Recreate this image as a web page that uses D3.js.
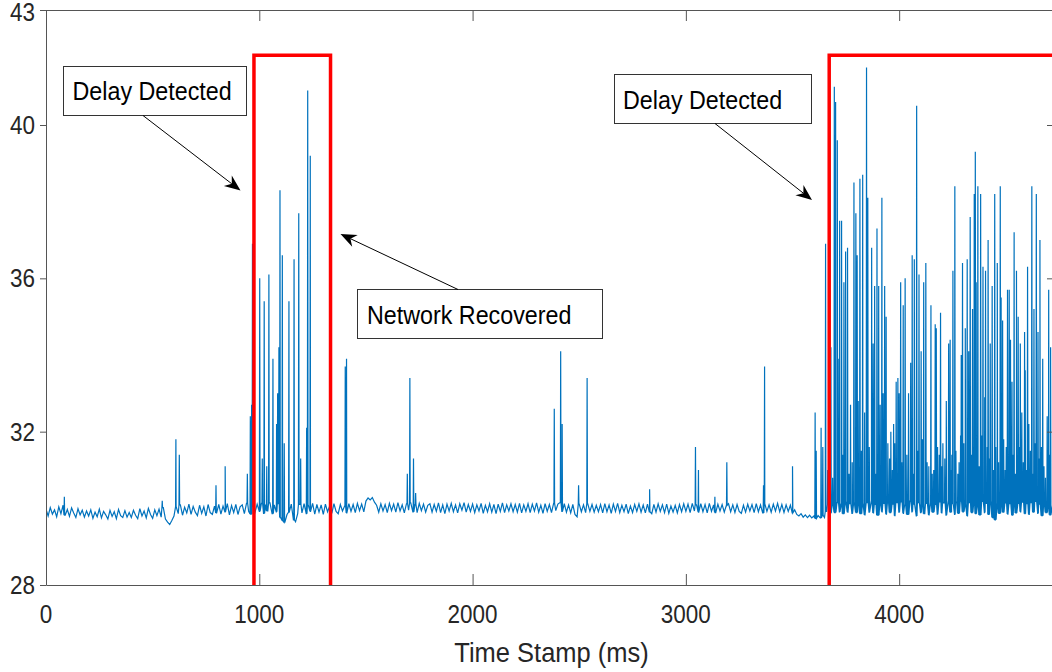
<!DOCTYPE html>
<html>
<head>
<meta charset="utf-8">
<script src="https://cdn.jsdelivr.net/npm/d3@7"></script>
<style>
  html, body { margin: 0; padding: 0; background: #fff; }
  svg { display: block; font-family: "Liberation Sans", Arial, Helvetica, sans-serif; }
</style>
</head>
<body>
<svg id="chart" width="1052" height="672"></svg>
<script>
// baseline delay, one sample every 10 ms starting at 0 ms (one row = 200 ms)
const baseStep = 10;
const baseline = [
  29.98, 29.80, 30.02, 29.85, 29.96, 29.78, 30.04, 29.86, 30.08, 29.82, 29.97, 29.79, 30.01, 29.88, 29.76, 29.99, 29.83, 29.95, 29.77, 29.93,
  29.80, 29.96, 29.74, 29.90, 29.78, 29.98, 29.75, 29.92, 29.83, 29.72, 29.95, 29.79, 29.91, 29.73, 29.97, 29.81, 29.76, 29.94, 29.77, 29.89,
  29.76, 29.95, 29.82, 29.73, 29.99, 29.80, 29.93, 29.75, 30.00, 29.84, 29.74, 29.96, 29.81, 29.98, 29.77, 30.02, 29.72, 29.64, 29.58, 29.68,
  29.80, 30.04, 29.86, 30.09, 29.82, 30.03, 29.88, 30.11, 29.84, 30.05, 29.90, 29.81, 30.08, 29.87, 30.04, 29.80, 30.10, 29.89, 29.84, 30.06,
  29.88, 30.10, 29.85, 30.06, 29.91, 30.12, 29.83, 30.07, 29.89, 30.10, 29.84, 30.04, 30.09, 29.86, 30.13, 29.92, 29.85, 30.08, 29.90, 30.11,
  29.92, 30.13, 29.87, 30.10, 29.93, 30.14, 29.86, 30.09, 29.91, 30.12, 29.76, 29.68, 29.64, 29.84, 29.90, 30.11, 29.70, 29.65, 29.86, 30.10,
  29.88, 30.12, 29.86, 30.08, 29.92, 30.13, 29.85, 30.10, 29.90, 30.09, 29.84, 30.11, 29.91, 30.06, 29.87, 30.12, 29.92, 29.86, 30.10, 29.93,
  30.06, 29.88, 30.12, 29.92, 30.10, 29.89, 30.13, 29.94, 30.11, 29.91, 30.19, 30.27, 30.22, 30.28, 30.16, 30.08, 29.90, 30.12, 29.93, 30.10,
  29.89, 30.13, 29.94, 30.11, 29.90, 30.15, 29.93, 30.09, 29.88, 30.12, 29.95, 30.14, 29.91, 30.10, 29.89, 30.13, 29.94, 30.11, 29.90, 30.08,
  30.12, 29.90, 30.10, 29.92, 30.14, 29.89, 30.09, 29.86, 30.11, 29.93, 30.13, 29.91, 30.09, 29.88, 30.12, 29.95, 30.15, 29.90, 30.10, 29.92,
  30.11, 29.89, 30.09, 29.93, 30.13, 29.87, 30.08, 29.91, 30.12, 29.90, 30.10, 29.86, 30.11, 29.92, 30.14, 29.89, 30.09, 29.93, 30.12, 29.91,
  30.10, 29.90, 30.13, 29.88, 30.09, 29.92, 30.12, 29.89, 30.11, 29.93, 30.14, 29.90, 30.08, 29.87, 30.12, 29.92, 30.10, 29.89, 30.13, 29.94,
  30.11, 30.15, 29.92, 30.12, 29.90, 30.09, 29.88, 30.10, 29.84, 29.78, 30.11, 29.91, 30.09, 29.89, 30.12, 29.92, 30.10, 29.90, 30.08, 29.91,
  30.10, 29.88, 30.12, 29.91, 30.09, 29.87, 30.11, 29.92, 30.13, 29.89, 30.08, 29.91, 30.11, 29.86, 30.06, 29.89, 30.10, 29.92, 30.12, 29.90,
  30.09, 29.88, 30.11, 29.91, 29.86, 30.10, 29.90, 30.12, 29.92, 30.09, 29.89, 30.11, 29.87, 30.06, 29.90, 30.08, 29.88, 30.10, 29.91, 30.12,
  29.92, 30.11, 29.89, 30.13, 29.93, 30.09, 29.90, 30.12, 29.91, 30.10, 29.88, 30.13, 29.92, 30.09, 29.89, 30.11, 29.93, 30.10, 29.90, 30.08,
  30.12, 29.91, 30.09, 29.89, 30.10, 29.92, 29.87, 30.08, 29.90, 30.11, 29.93, 30.10, 29.89, 30.12, 29.91, 30.09, 29.88, 30.11, 29.92, 30.09,
  29.90, 30.11, 29.93, 30.13, 29.91, 30.10, 29.89, 30.09, 29.92, 30.08, 29.88, 29.96, 29.84, 29.80, 29.86, 29.77, 29.83, 29.76, 29.82, 29.75,
  29.80, 29.74, 29.81, 29.75, 29.82, 29.76, 29.92, 30.10, 29.88, 30.13, 29.89, 30.15, 29.91, 30.11, 29.86, 30.17, 29.90, 30.12, 29.87, 30.14,
  29.89, 30.17, 29.86, 30.12, 29.83, 30.15, 29.90, 30.19, 29.88, 30.10, 29.82, 30.16, 29.91, 30.13, 29.85, 30.18, 29.89, 30.11, 29.81, 30.15,
  29.90, 30.17, 29.87, 30.12, 29.84, 30.19, 29.91, 30.11, 29.80, 30.15, 29.89, 30.18, 29.86, 30.13, 29.83, 30.16, 29.90, 30.10, 29.85, 30.17,
  29.88, 30.14, 29.82, 30.18, 29.90, 30.12, 29.84, 30.16, 29.87, 30.19, 29.91, 30.11, 29.80, 30.15, 29.89, 30.17, 29.86, 30.13, 29.83, 30.18,
  29.89, 30.13, 29.84, 30.16, 29.76, 29.70, 30.11, 29.87, 30.17, 29.90, 30.14, 29.85, 30.12, 29.82, 30.19, 29.88, 30.13, 29.91, 30.16, 29.86,
  30.12, 29.84, 30.15, 29.90, 30.18, 29.87, 30.11, 29.81, 30.16, 29.89, 30.13, 29.83, 30.10
];

// single-sample delay spikes (ms timestamp, delay)
const spikeTimes = [
  86, 545, 609, 625, 797, 840, 944, 958, 964, 968,
  1002, 1014, 1023, 1035, 1045, 1064, 1081, 1086, 1092, 1097,
  1108, 1117, 1139, 1163, 1185, 1194, 1222, 1227, 1239, 1403,
  1409, 1694, 1706, 1723, 1733, 2383, 2413, 2420, 2497, 2537,
  2830, 3045, 3059, 3136, 3192, 3364, 3369, 3500, 3606, 3611,
  3634, 3642, 3655, 3665, 3680, 3688, 3696, 3702, 3710, 3714,
  3721, 3730, 3735, 3741, 3749, 3758, 3765, 3772, 3780, 3788,
  3797, 3803, 3808, 3816, 3823, 3829, 3838, 3847, 3853, 3860,
  3871, 3878, 3885, 3890, 3896, 3904, 3911, 3919, 3925, 3932,
  3939, 3947, 3955, 3961, 3968, 3974, 3979, 3986, 3994, 4000,
  4007, 4012, 4019, 4028, 4036, 4044, 4054, 4061, 4066, 4071,
  4082, 4087, 4093, 4103, 4109, 4115, 4125, 4131, 4139, 4149,
  4155, 4162, 4169, 4174, 4180, 4188, 4194, 4199, 4205, 4214,
  4221, 4232, 4239, 4244, 4247, 4252, 4261, 4266, 4275, 4281,
  4288, 4291, 4297, 4303, 4310, 4319, 4326, 4333, 4338, 4344,
  4352, 4357, 4361, 4369, 4375, 4382, 4388, 4393, 4401, 4405,
  4413, 4417, 4422, 4427, 4436, 4442, 4448, 4453, 4460, 4466,
  4474, 4478, 4485, 4490, 4497, 4502, 4508, 4516, 4522, 4529,
  4533, 4539, 4545, 4550, 4558, 4563, 4568, 4575, 4582, 4588,
  4591, 4596, 4602, 4608, 4615, 4622, 4627, 4632, 4637, 4643,
  4651, 4655, 4660, 4667, 4673, 4679, 4686, 4694, 4701, 4705,
  4710
];
const spikePeaks = [
  30.3, 30.2, 31.8, 31.4, 30.6, 31.1, 30.9, 32.4, 32.7, 36.9,
  36.0, 31.3, 35.4, 31.1, 36.1, 33.9, 32.2, 33.0, 34.2, 38.3,
  36.6, 31.7, 35.4, 36.5, 37.7, 31.3, 32.1, 40.9, 39.2, 33.7,
  33.9, 30.9, 33.4, 31.3, 30.4, 32.6, 34.1, 32.2, 30.6, 33.4,
  30.5, 31.6, 31.0, 30.3, 31.2, 30.6, 33.7, 31.1, 32.5, 31.5,
  32.1, 31.6, 36.9, 31.0, 34.2, 30.8, 41.0, 40.6, 39.6, 33.9,
  37.5, 37.5, 31.4, 35.9, 36.7, 36.8, 30.9, 32.7, 31.2, 38.5,
  37.7, 36.6, 32.8, 38.6, 31.5, 38.7, 32.5, 41.5, 38.1, 31.6,
  36.8, 34.3, 35.8, 30.9, 37.3, 35.8, 32.7, 38.1, 33.0, 35.8,
  35.0, 31.7, 31.3, 32.0, 31.0, 32.2, 31.7, 33.3, 33.4, 33.0,
  35.9, 31.2, 35.3, 36.0, 31.4, 33.0, 33.8, 36.6, 30.9, 36.5,
  40.5, 31.5, 36.1, 34.1, 31.8, 35.9, 36.4, 31.2, 31.1, 35.3,
  30.9, 31.0, 34.8, 34.7, 31.6, 31.4, 35.1, 31.1, 31.7, 31.3,
  32.8, 34.3, 34.4, 31.0, 31.4, 36.2, 38.4, 31.5, 30.9, 31.2,
  31.9, 34.0, 36.4, 31.7, 34.7, 36.5, 34.1, 37.6, 31.4, 35.2,
  38.2, 39.3, 35.9, 38.4, 31.1, 38.2, 31.9, 36.3, 32.9, 36.2,
  31.6, 37.0, 31.3, 34.3, 35.8, 31.0, 38.2, 31.6, 36.4, 31.2,
  38.4, 35.5, 34.9, 31.8, 31.0, 31.6, 35.7, 35.7, 34.4, 33.3,
  31.4, 37.2, 30.9, 36.2, 35.0, 31.6, 34.3, 32.5, 31.2, 34.6,
  33.6, 31.0, 36.3, 32.2, 31.5, 38.4, 30.9, 35.2, 31.7, 38.2,
  34.6, 31.3, 37.0, 31.6, 33.9, 31.1, 30.8, 32.4, 35.7, 31.4,
  34.2
];

// red delay-alarm step signal (low level sits below the visible axis)
const alarmTimes = [0, 975, 975, 1334, 1334, 3672, 3672, 4740];
const alarmLevels = [27, 27, 41.82, 41.82, 27, 27, 41.82, 41.82];

const xTicks = [0, 1000, 2000, 3000, 4000];
const yTicks = [28, 32, 36, 40, 43];
const xTitle = "Time Stamp (ms)";

// layout
const margin = { left: 46, top: 10, right: 1057, bottom: 585 };
const stretch = 1.12; // text in the picture is a bit taller than wide

const svg = d3.select("#chart");

const x = d3.scaleLinear().domain([0, 4740]).range([margin.left, margin.right]);
const y = d3.scaleLinear().domain([28, 43]).range([margin.bottom, margin.top]);

svg.append("defs").append("clipPath").attr("id", "plotClip")
  .append("rect")
  .attr("x", margin.left).attr("y", margin.top)
  .attr("width", margin.right - margin.left)
  .attr("height", margin.bottom - margin.top);

// build the delay series: baseline samples plus one-sample spikes
const series = baseline.map((v, i) => ({ t: i * baseStep, v: v }));
spikeTimes.forEach((t, i) => {
  const foot = baseline[Math.min(baseline.length - 1, Math.round(t / baseStep))];
  series.push({ t: t - 1.5, v: foot }, { t: t, v: spikePeaks[i] }, { t: t + 1.5, v: foot });
});
series.sort((a, b) => a.t - b.t);

const plot = svg.append("g").attr("clip-path", "url(#plotClip)");

const line = d3.line().x(d => x(d.t)).y(d => y(d.v));

plot.append("path")
  .datum(series)
  .attr("fill", "none")
  .attr("stroke", "#0072BD")
  .attr("stroke-width", 1.2)
  .attr("d", line);

const alarm = alarmTimes.map((t, i) => ({ t: t, v: alarmLevels[i] }));
plot.append("path")
  .datum(alarm)
  .attr("fill", "none")
  .attr("stroke", "#FF0000")
  .attr("stroke-width", 3.5)
  .attr("stroke-linejoin", "miter")
  .attr("d", line);

// axes box and ticks
const axisColor = "#555";
function styleAxis(g) {
  g.select(".domain").attr("stroke", axisColor);
  g.selectAll(".tick line").attr("stroke", axisColor);
  g.selectAll(".tick text").remove();
}
svg.append("g").attr("transform", `translate(0,${margin.bottom})`)
  .call(d3.axisBottom(x).tickValues(xTicks).tickSizeInner(-11).tickSizeOuter(0))
  .call(styleAxis);
svg.append("g").attr("transform", `translate(0,${margin.top})`)
  .call(d3.axisTop(x).tickValues(xTicks).tickSizeInner(-11).tickSizeOuter(0))
  .call(styleAxis);
svg.append("g").attr("transform", `translate(${margin.left},0)`)
  .call(d3.axisLeft(y).tickValues(yTicks).tickSizeInner(6).tickSizeOuter(0))
  .call(styleAxis);
svg.append("g").attr("transform", `translate(${margin.right},0)`)
  .call(d3.axisRight(y).tickValues(yTicks).tickSizeInner(-10).tickSizeOuter(0))
  .call(styleAxis);

function putText(px, py, txt, size, anchor, color) {
  return svg.append("text")
    .attr("transform", `translate(${px},${py}) scale(1,${stretch})`)
    .attr("text-anchor", anchor)
    .attr("fill", color)
    .style("font-size", size + "px")
    .text(txt);
}

xTicks.forEach(t => putText(x(t), 623, d3.format("d")(t), 22.5, "middle", "#262626"));
yTicks.forEach(v => putText(35, Math.max(y(v) + 9, 20.5), d3.format("d")(v), 22.5, "end", "#262626"));
putText((margin.left + margin.right) / 2, 662, xTitle, 25.5, "middle", "#262626");

// annotations: text boxes with arrows (pixel layout)
const notes = [
  { box: [63.5, 66.5, 183, 49], text: "Delay Detected", tx: 72.5, ty: 100, from: [143, 115.5], to: [240.5, 190.5] },
  { box: [357.5, 289.5, 245, 49], text: "Network Recovered", tx: 367, ty: 323.5, from: [458, 289.5], to: [340.5, 234] },
  { box: [614.5, 74.5, 197, 49], text: "Delay Detected", tx: 623, ty: 108.5, from: [715, 123.5], to: [812, 200] }
];

notes.forEach(n => {
  svg.append("rect")
    .attr("x", n.box[0]).attr("y", n.box[1])
    .attr("width", n.box[2]).attr("height", n.box[3])
    .attr("fill", "#fff").attr("stroke", "#333").attr("stroke-width", 1);
  putText(n.tx, n.ty, n.text, 23.3, "start", "#000");

  const dx = n.to[0] - n.from[0], dy = n.to[1] - n.from[1];
  const len = Math.hypot(dx, dy);
  const ux = dx / len, uy = dy / len;
  const headLen = 16, headHalf = 6.5, notch = 11;
  const bx = n.to[0] - ux * notch, by = n.to[1] - uy * notch;
  svg.append("line")
    .attr("x1", n.from[0]).attr("y1", n.from[1])
    .attr("x2", bx).attr("y2", by)
    .attr("stroke", "#000").attr("stroke-width", 1);
  const hx = n.to[0] - ux * headLen, hy = n.to[1] - uy * headLen;
  const pts = [
    [n.to[0], n.to[1]],
    [hx - uy * headHalf, hy + ux * headHalf],
    [bx, by],
    [hx + uy * headHalf, hy - ux * headHalf]
  ];
  svg.append("path")
    .attr("d", "M" + pts.map(p => p.join(",")).join("L") + "Z")
    .attr("fill", "#000");
});
</script>
</body>
</html>
